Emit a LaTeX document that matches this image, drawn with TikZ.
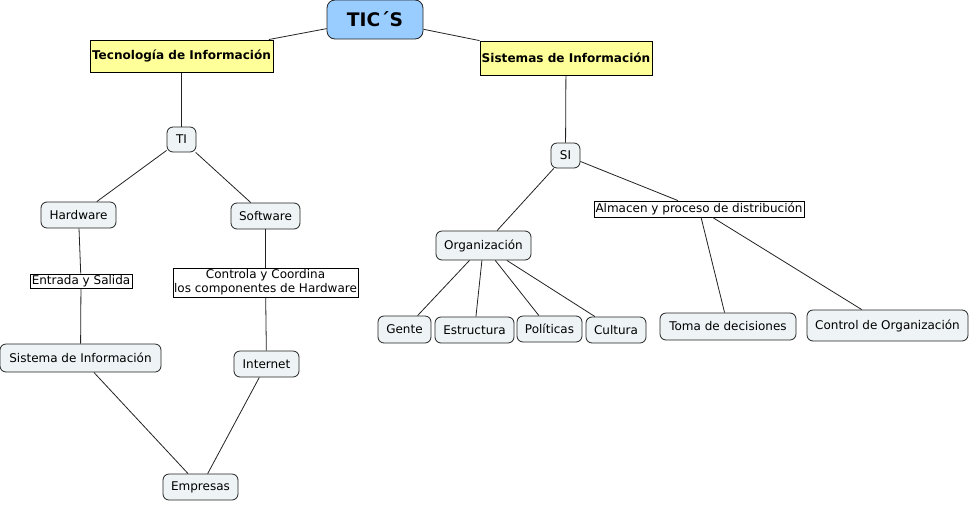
\documentclass[tikz,border=0pt]{standalone}
\usepackage{fontspec}
\setmainfont{DejaVu Sans}
\definecolor{tblue}{HTML}{99CCFF}
\definecolor{tyellow}{HTML}{FFFF99}
\definecolor{cfill}{HTML}{EEF3F5}
\definecolor{edge}{HTML}{222222}
\begin{document}
\begin{tikzpicture}[x=0.75pt,y=-0.75pt,
  concept/.style={draw=edge,line width=0.6pt,fill=cfill,rounded corners=4.5pt,inner sep=0pt,align=center,font=\fontsize{9}{11}\selectfont},
  head/.style={draw=black,line width=0.75pt,fill=tyellow,inner sep=0pt,font=\bfseries\fontsize{9.05}{10}\selectfont},
  link/.style={draw=black,line width=0.6pt,fill=white,inner sep=0pt,align=center,font=\fontsize{9}{10.5}\selectfont},
  conn/.style={draw=edge,line width=0.6pt}]
\useasboundingbox (0,0) rectangle (970,504);
% nodes
\node[concept,fill=tblue,rounded corners=6pt,minimum width=72pt,minimum height=29.25pt,font=\bfseries\fontsize{14}{15}\selectfont] (tics) at (375,19.5) {TIC´S};
\node[head,minimum width=137.25pt,minimum height=24pt] (tec) at (181.5,56) {Tecnología de Información};
\node[head,minimum width=129pt,minimum height=25.5pt] (sis) at (566,58) {Sistemas de Información};
\node[concept,minimum width=21.75pt,minimum height=18.75pt] (ti) at (181.5,139.5) {TI};
\node[concept,minimum width=21.75pt,minimum height=18.75pt] (si) at (565.5,155.5) {SI};
\node[concept,minimum width=56.25pt,minimum height=19.5pt] (hw) at (78.5,215) {Hardware};
\node[concept,minimum width=51.75pt,minimum height=19.5pt] (sw) at (265.5,216) {Software};
\node[link,minimum width=76.5pt,minimum height=10.5pt] (es) at (81,281) {Entrada y Salida};
\node[link,minimum width=138.75pt,minimum height=21.75pt] (cc) at (265.5,282.5) {Controla y Coordina\\los componentes de Hardware};
\node[concept,minimum width=120.75pt,minimum height=21pt] (sinf) at (80.5,358) {Sistema de Información};
\node[concept,minimum width=48.75pt,minimum height=19.5pt] (inet) at (266.5,364) {Internet};
\node[concept,minimum width=56.25pt,minimum height=19.5pt] (emp) at (200.5,487) {Empresas};
\node[concept,minimum width=71.25pt,minimum height=21.75pt] (org) at (483.5,245.5) {Organización};
\node[link,minimum width=157.5pt,minimum height=12pt] (alm) at (699,209) {Almacen y proceso de distribución};
\node[concept,minimum width=39.75pt,minimum height=20.25pt] (gen) at (404.5,329.5) {Gente};
\node[concept,minimum width=59.25pt,minimum height=19.5pt] (est) at (474.5,330) {Estructura};
\node[concept,minimum width=48.75pt,minimum height=19.5pt] (pol) at (549.5,329) {Políticas};
\node[concept,minimum width=45pt,minimum height=19.5pt] (cul) at (616,330) {Cultura};
\node[concept,minimum width=102pt,minimum height=20.25pt] (tom) at (728,326.5) {Toma de decisiones};
\node[concept,minimum width=120.75pt,minimum height=23.25pt] (ctl) at (887.5,325.5) {Control de Organización};
% connectors
\draw[conn] (tics) -- (tec);
\draw[conn] (tics) -- (sis);
\draw[conn] (tec) -- (ti);
\draw[conn] (sis) -- (si);
\draw[conn] (ti) -- (hw);
\draw[conn] (ti) -- (sw);
\draw[conn] (hw) -- (es);
\draw[conn] (es) -- (sinf);
\draw[conn] (sw) -- (cc);
\draw[conn] (cc) -- (inet);
\draw[conn] (sinf) -- (emp);
\draw[conn] (inet) -- (emp);
\draw[conn] (si) -- (org);
\draw[conn] (si) -- (alm);
\draw[conn] (org) -- (gen);
\draw[conn] (org) -- (est);
\draw[conn] (org) -- (pol);
\draw[conn] (org) -- (cul);
\draw[conn] (alm) -- (tom);
\draw[conn] (alm) -- (ctl);
\end{tikzpicture}
\end{document}
